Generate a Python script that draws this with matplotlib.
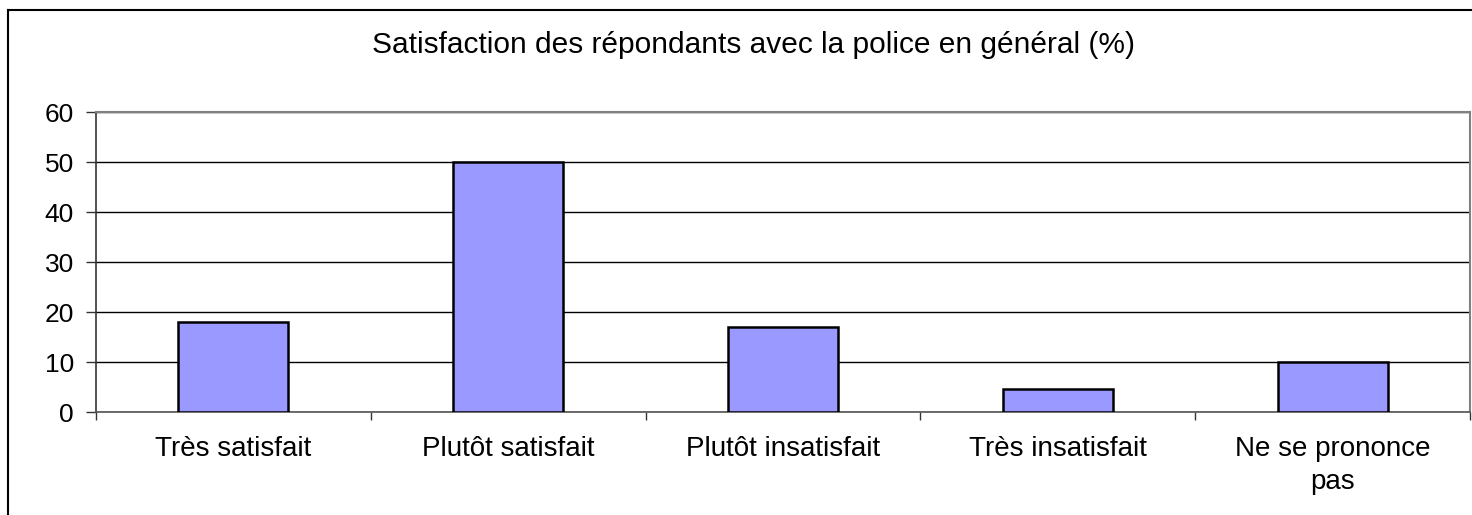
import matplotlib
matplotlib.use("Agg")
import matplotlib.pyplot as plt
from matplotlib.lines import Line2D

categories = ["Très satisfait", "Plutôt satisfait", "Plutôt insatisfait",
              "Très insatisfait", "Ne se prononce\npas"]
values = [18, 50, 17, 4.7, 10]
yticks = [0, 10, 20, 30, 40, 50, 60]
title = "Satisfaction des répondants avec la police en général (%)"

plt.rcParams['font.family'] = ['Liberation Sans', 'DejaVu Sans']

W, H = 1472, 515
fig = plt.figure(figsize=(W / 100, H / 100), dpi=100)
ax = fig.add_axes([96 / W, 1 - 412 / H, (1470 - 96) / W, 300 / H])

x = list(range(len(categories)))
ax.bar(x, values, width=0.4, color="#9999FF", edgecolor="black", linewidth=1.8, zorder=3)

ax.set_xlim(-0.5, len(categories) - 0.5)
ax.set_ylim(0, 60)
ax.set_yticks(yticks)
ax.set_yticklabels([str(v) for v in yticks], fontsize=19)
ax.set_xticks(x)
ax.set_xticklabels(categories, fontsize=20, linespacing=1.35)
ax.set_xticks([i - 0.5 for i in range(len(categories) + 1)], minor=True)
ax.tick_params(axis="x", which="major", length=0, pad=17)
ax.tick_params(axis="x", which="minor", length=6, width=1, direction="out", color="#333333")
ax.tick_params(axis="y", length=7, width=1, direction="out", pad=9, color="#333333")

ax.yaxis.grid(True, color="black", linewidth=1, zorder=0)
ax.set_axisbelow(True)
for s in ["top", "right"]:
    ax.spines[s].set_color("#808080")
    ax.spines[s].set_linewidth(1.5)
ax.spines["left"].set_color("#333333")
ax.spines["bottom"].set_color("#555555")
ax.spines["left"].set_linewidth(1.2)
ax.spines["bottom"].set_linewidth(1.2)

fig.text(753 / W, 1 - 45 / H, title, ha="center", va="center", fontsize=21.5)

# outer chart border (top and left visible)
fig.add_artist(Line2D([8 / W, 1.01], [1 - 10 / H, 1 - 10 / H], transform=fig.transFigure,
                      color="black", linewidth=1.5))
fig.add_artist(Line2D([8 / W, 8 / W], [-0.01, 1 - 10 / H], transform=fig.transFigure,
                      color="black", linewidth=1.5))

fig.savefig("out.png", dpi=100)
